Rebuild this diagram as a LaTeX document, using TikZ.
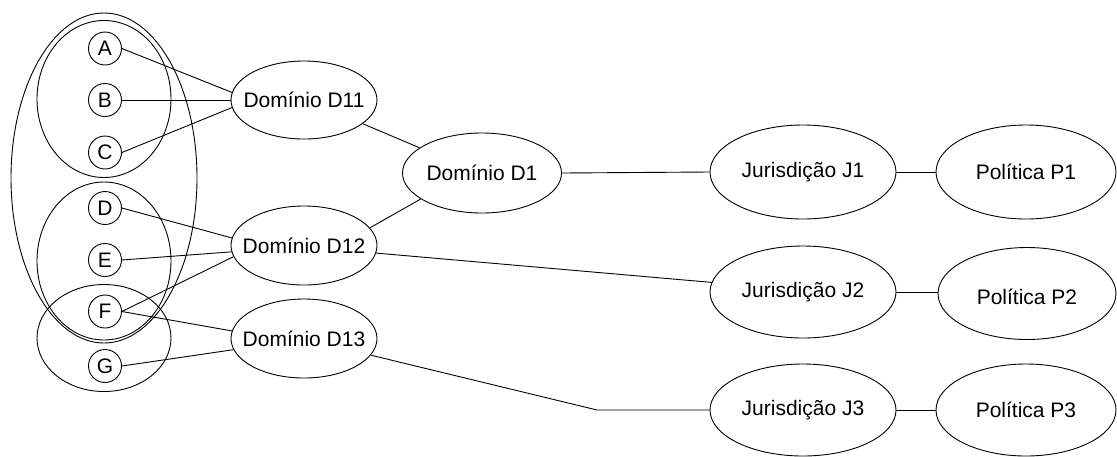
\documentclass[tikz,border=0pt]{standalone}
\usepackage{fontspec}
\setmainfont{Liberation Sans}
\usetikzlibrary{shapes.geometric}
\begin{document}
\begin{tikzpicture}[x=1pt,y=-1pt,
  every node/.style={font=\fontsize{21}{25}\selectfont},
  item/.style={draw, circle, line width=0.9pt, minimum size=33pt, inner sep=0pt},
  group/.style={draw, ellipse, line width=0.9pt, inner sep=0pt},
  oval/.style={draw, ellipse, line width=0.9pt, inner sep=0pt},
  link/.style={line width=0.9pt}]
\useasboundingbox (0,0) rectangle (1117,456);

% groups of elements
\node[group, minimum width=186pt, minimum height=330pt] (gall) at (104,178) {};
\node[group, minimum width=134pt, minimum height=157pt] (gabc) at (104,99) {};
\node[group, minimum width=134pt, minimum height=158pt] (gdef) at (104,261) {};
\node[group, minimum width=134pt, minimum height=107pt] (gfg) at (104,338) {};

% elements
\node[item] (A) at (105,48.5) {A};
\node[item] (B) at (105,100) {B};
\node[item] (C) at (105,152.5) {C};
\node[item] (D) at (105,208) {D};
\node[item] (E) at (105,260) {E};
\node[item] (F) at (105,311.5) {F};
\node[item] (G) at (105,366) {G};

% domains
\node[oval, minimum width=146pt, minimum height=78pt, label={center:Domínio D11}] (d11) at (304,100) {};
\node[oval, minimum width=146pt, minimum height=79pt, label={center:Domínio D12}] (d12) at (304,245.5) {};
\node[oval, minimum width=146pt, minimum height=79pt, label={center:Domínio D13}] (d13) at (304,338.5) {};
\node[oval, minimum width=159pt, minimum height=80pt, label={center:Domínio D1}] (d1) at (482,173) {};

% jurisdictions
\node[oval, minimum width=186pt, minimum height=94pt, label={center:Jurisdição J1}] (j1) at (803,172) {};
\node[oval, minimum width=186pt, minimum height=92pt, label={center:Jurisdição J2}] (j2) at (803,292) {};
\node[oval, minimum width=186pt, minimum height=92pt, label={center:Jurisdição J3}] (j3) at (803,410) {};

% policies
\node[oval, minimum width=180pt, minimum height=94pt, label={center:Política P1}] (p1) at (1026,172) {};
\node[oval, minimum width=178pt, minimum height=92pt, label={[yshift=-3pt]center:Política P2}] (p2) at (1027,293.5) {};
\node[oval, minimum width=180pt, minimum height=92pt, label={center:Política P3}] (p3) at (1026,410) {};

\coordinate (bend) at (597,410);

% connections
\draw[link] (A.east) -- (d11.174);
\draw[link] (B.east) -- (d11.180);
\draw[link] (C.east) -- (d11.186);
\draw[link] (D.east) -- (d12.174);
\draw[link] (E.east) -- (d12.185);
\draw[link] (F.east) -- (d12.189);
\draw[link] (F.east) -- (d13.174);
\draw[link] (G.east) -- (d13.189);
\draw[link] (d11.338) -- (d1.158);
\draw[link] (d12.15) -- (d1.203);
\draw[link] (d1.east) -- (j1.west);
\draw[link] (d12.354) -- (j2.174);
\draw[link] (d13.346) -- (bend) -- (j3.west);
\draw[link] (j1.east) -- (p1.west);
\draw[link] (j2.east) -- (p2.west |- j2.east);
\draw[link] (j3.east) -- (p3.west);
\end{tikzpicture}
\end{document}
